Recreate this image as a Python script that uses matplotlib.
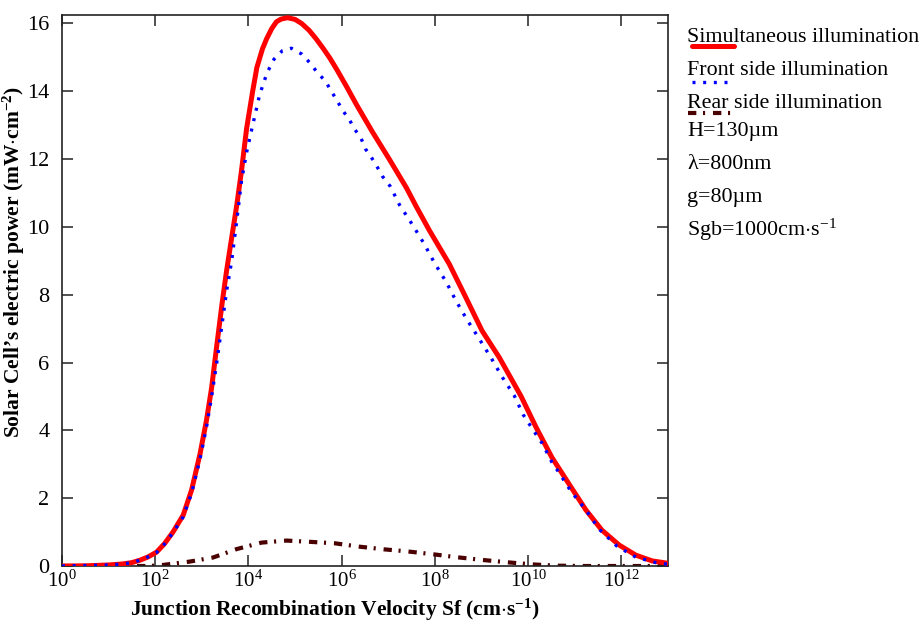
import numpy as np
import matplotlib
matplotlib.use("Agg")
import matplotlib.pyplot as plt
from matplotlib.lines import Line2D
from matplotlib.ticker import FixedLocator, FuncFormatter, NullLocator

plt.rcParams['font.family'] = ['Liberation Serif', 'DejaVu Serif']
plt.rcParams['mathtext.fontset'] = 'custom'
plt.rcParams['mathtext.rm'] = 'Liberation Serif'
plt.rcParams['mathtext.it'] = 'Liberation Serif:italic'
plt.rcParams['mathtext.bf'] = 'Liberation Serif:bold'

# ---- data (log10 of Sf in cm/s, power in mW/cm^2) ----
simul_log_sf = [0, 0.5, 1.0, 1.3, 1.5, 1.67, 1.85, 2.03, 2.2, 2.38, 2.6, 2.78, 2.96, 3.1, 3.21,
                3.32, 3.43, 3.53, 3.64, 3.75, 3.85, 3.96, 4.09, 4.18, 4.3, 4.39, 4.5, 4.6, 4.7,
                4.84, 5.0, 5.14, 5.3, 5.45, 5.6, 5.75, 5.9, 6.1, 6.32, 6.66, 7.02, 7.39, 7.6,
                7.88, 8.31, 8.67, 9.01, 9.38, 9.85, 10.17, 10.51, 10.88, 11.24, 11.58, 11.95,
                12.31, 12.66, 13.0]
simul_power = [0, 0.005, 0.03, 0.06, 0.1, 0.17, 0.27, 0.41, 0.66, 1.0, 1.5, 2.24, 3.3, 4.3, 5.26,
               6.5, 7.7, 8.7, 9.68, 10.65, 11.65, 12.9, 14.0, 14.7, 15.25, 15.55, 15.85, 16.05, 16.13,
               16.17, 16.12, 16.0, 15.8, 15.55, 15.27, 14.97, 14.63, 14.15, 13.6, 12.8, 12.0, 11.15, 10.6,
               9.9, 8.9, 7.9, 6.94, 6.15, 5.0, 4.09, 3.2, 2.41, 1.65, 1.06, 0.62,
               0.32, 0.15, 0.08]

front_log_sf = [0, 1.0, 1.3, 1.5, 1.67, 1.85, 2.03, 2.2, 2.38, 2.6, 2.78, 2.96, 3.1, 3.21, 3.32,
                3.43, 3.53, 3.64, 3.75, 3.85, 3.96, 4.09, 4.24, 4.4, 4.55, 4.73, 4.92, 5.14,
                5.31, 5.48, 5.65, 5.78, 5.91, 6.04, 6.17, 6.27, 6.42, 6.51, 6.66, 6.77, 6.87,
                7.04, 7.15, 7.24, 7.52, 7.77, 7.99, 8.24, 8.46, 8.69, 8.95, 9.2, 9.44, 9.7,
                9.89, 10.17, 10.3, 10.51, 10.66, 10.92, 11.24, 11.52, 11.9, 12.31, 12.74, 13.0]
front_power = [0, 0.03, 0.06, 0.1, 0.17, 0.27, 0.4, 0.65, 0.98, 1.45, 2.15, 3.15, 4.1, 5.0, 6.0,
               7.1, 8.1, 9.0, 10.2, 11.35, 12.2, 13.0, 13.9, 14.55, 14.95, 15.2, 15.27, 15.1,
               14.85, 14.55, 14.3, 14.0, 13.7, 13.4, 13.15, 12.9, 12.6, 12.3, 12.0, 11.75, 11.5,
               11.2, 10.9, 10.65, 10.06, 9.5, 8.94, 8.38, 7.8, 7.26, 6.7, 6.15, 5.58, 5.03,
               4.47, 3.88, 3.62, 3.06, 2.76, 2.2, 1.65, 1.09, 0.59, 0.26, 0.1, 0.05]

rear_log_sf = [0, 1.5, 1.88, 2.16, 2.74, 3.24, 3.75, 4.28, 4.82, 5.35, 5.85, 6.38, 6.92,
               7.41, 7.94, 8.46, 9.01, 9.55, 10.06, 10.6, 11.2, 12.0, 13.0]
rear_power = [0, 0, 0.0, 0.03, 0.13, 0.25, 0.5, 0.69, 0.75, 0.71, 0.67, 0.57, 0.49,
              0.43, 0.35, 0.26, 0.18, 0.11, 0.05, 0.01, 0, 0, 0]

x_tick_exponents = [0, 2, 4, 6, 8, 10, 12]
y_ticks = [0, 2, 4, 6, 8, 10, 12, 14, 16]

legend_labels = ["Simultaneous illumination", "Front side illumination", "Rear side illumination"]
param_labels = ["H=130\u00b5m", "\u03bb=800nm", "g=80\u00b5m", r"Sgb=1000cm$\cdot$s$^{\mathregular{-1}}$"]
x_label = r"Junction Recombination Velocity Sf (cm$\cdot$s$^{\mathbf{-1}}$)"
y_label = r"Solar Cell’s electric power (mW$\cdot$cm$^{\mathbf{-2}}$)"

red = "#ff0000"
blue = "#0000ff"
maroon = "#4a0000"

fig = plt.figure(figsize=(9.22, 6.24), dpi=100)
ax = fig.add_axes([62/922, 1 - 566/624, (668-62)/922, (566-15)/624])

sf = lambda l: np.power(10.0, np.array(l, dtype=float))

ax.plot(sf(rear_log_sf), rear_power, color=maroon, lw=3.0,
        linestyle=(0, (2.0, 1.6, 0.5, 1.9)), zorder=2)
ax.plot(sf(simul_log_sf), simul_power, color=red, lw=3.6, zorder=3,
        solid_joinstyle='round')
ax.plot(sf(front_log_sf), front_power, color=blue, lw=2.4,
        linestyle=(0, (0.9, 2.3)), zorder=4)

ax.set_xscale('log')
ax.set_xlim(1, 1e13)
ax.set_ylim(0, 16.25)
ax.xaxis.set_major_locator(FixedLocator([10.0**e for e in x_tick_exponents]))
ax.xaxis.set_minor_locator(NullLocator())
ax.xaxis.set_major_formatter(FuncFormatter(lambda v, p: r'$\mathregular{10^{%d}}$' % round(np.log10(v))))
ax.set_yticks(y_ticks)
ax.tick_params(axis='both', which='major', direction='in', length=8, width=1.2,
               top=True, right=True, colors='#333333', labelcolor='black')
ax.tick_params(axis='x', pad=3, labelsize=15)
ax.tick_params(axis='y', pad=9, labelsize=16)
for s in ax.spines.values():
    s.set_linewidth(1.2)
    s.set_color('#222222')

fig.text(335/922, 1 - 615.5/624, x_label, fontsize=15.5, fontweight='bold',
         ha='center', va='baseline')
fig.text(13.5/922, 1 - 262/624, y_label, fontsize=15.5, fontweight='bold',
         ha='center', va='center', rotation=90)

# legend-like annotations at the right
text_x = 687/922
fs_leg = 15.8
baselines = [41.7, 75, 107.7]
for lab, yb in zip(legend_labels, baselines):
    fig.text(text_x, 1 - yb/624, lab, fontsize=fs_leg, va='baseline', ha='left')

fig.add_artist(Line2D([692/922, 734/922], [1 - 46/624]*2, transform=fig.transFigure,
                      color=red, lw=3.6, solid_capstyle='round'))
fig.add_artist(Line2D([692/922, 734/922], [1 - 82/624]*2, transform=fig.transFigure,
                      color=blue, lw=2.4, linestyle=(0, (0.9, 2.3))))
fig.add_artist(Line2D([688/922, 732/922], [1 - 113/624]*2, transform=fig.transFigure,
                      color=maroon, lw=3.0, linestyle=(0, (2.0, 1.6, 0.5, 1.9))))

param_baselines = [135.7, 169, 201.7, 236]
for lab, yb in zip(param_labels, param_baselines):
    fig.text(text_x, 1 - yb/624, lab, fontsize=fs_leg, va='baseline', ha='left')

fig.savefig("out.png", dpi=100)
